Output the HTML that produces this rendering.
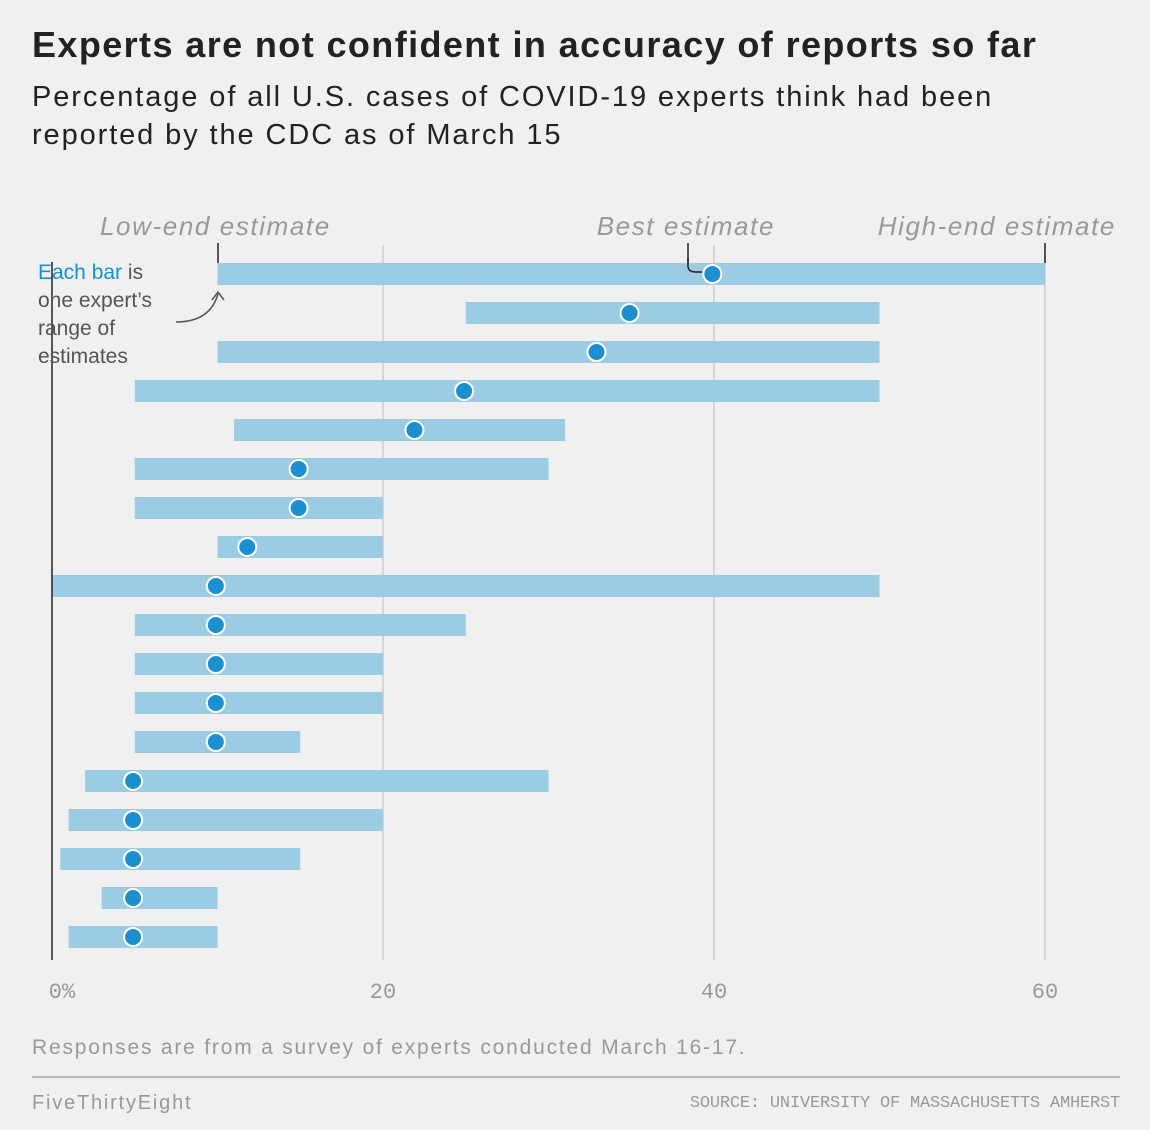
<!DOCTYPE html>
<html><head><meta charset="utf-8"><style>
body{margin:0;background:#f0f0f0;font-family:"Liberation Sans",sans-serif;}
#wrap{position:relative;width:1150px;height:1130px;overflow:hidden;background:#f0f0f0;}
.t{position:absolute;white-space:nowrap;}
</style></head><body>
<div id="wrap">
<div class="t" style="left:32px;top:24px;font-size:36px;font-weight:bold;color:#222;letter-spacing:1.4px;">Experts are not confident in accuracy of reports so far</div>
<div class="t" style="left:32px;top:78px;font-size:29px;color:#222;line-height:38px;letter-spacing:1.9px;">Percentage of all U.S. cases of COVID-19 experts think had been<br>reported by the CDC as of March 15</div>
<svg id="chart" width="1150" height="1130" style="position:absolute;left:0;top:0"></svg>
<div class="t" style="left:32px;top:1036px;font-size:21px;color:#999;letter-spacing:1.8px;">Responses are from a survey of experts conducted March 16-17.</div>
<div style="position:absolute;left:32px;top:1076px;width:1088px;height:2px;background:#bbb;"></div>
<div class="t" style="left:32px;top:1092px;font-size:20px;color:#999;letter-spacing:1.8px;">FiveThirtyEight</div>
<div class="t" style="right:30px;top:1094px;font-size:17px;color:#999;font-family:'Liberation Mono',monospace;letter-spacing:-0.2px;">SOURCE: UNIVERSITY OF MASSACHUSETTS AMHERST</div>
</div>
<script>
const lows=[10,25,10,5,11,5,5,10,0,5,5,5,5,2,1,0.5,3,1];
const highs=[60,50,50,50,31,30,20,20,50,25,20,20,15,30,20,15,10,10];
const bests=[39.9,34.9,32.9,24.9,21.9,14.9,14.9,11.8,9.9,9.9,9.9,9.9,9.9,4.9,4.9,4.9,4.9,4.9];
const ticks=[0,20,40,60];
const tickLabels=["0%","20","40","60"];
const NS="http://www.w3.org/2000/svg";
const svg=document.getElementById('chart');
const x=v=>52+v*16.55;
const y=i=>274+i*39;
function mk(t,a){const e=document.createElementNS(NS,t);for(const k in a)e.setAttribute(k,a[k]);svg.appendChild(e);return e;}
ticks.forEach((t,i)=>{
  if(t>0){const g=mk('line',{x1:x(t),x2:x(t),y1:245,y2:960,stroke:'#ccc','stroke-width':1.5});
  
  }
  const l=mk('text',{x:x(t)+(t===0?10:0),y:998,'text-anchor':'middle','font-size':22,fill:'#999','font-family':'Liberation Mono, monospace'});
  l.textContent=tickLabels[i];
  
  
});
lows.forEach((lo,i)=>{
  const b=mk('rect',{x:x(lo),y:y(i)-11,width:x(highs[i])-x(lo),height:22,fill:'#9ccbe4'});
  
  
});
const ax=mk('line',{x1:x(0),x2:x(0),y1:262,y2:960,stroke:'#222','stroke-width':1.5});


bests.forEach((b,i)=>{
  const c=mk('circle',{cx:x(b),cy:y(i),r:9,fill:'#1b8fd0',stroke:'#fff','stroke-width':2});
  
  
});
[[218,'Low-end estimate',100,'start'],[688,'Best estimate',775,'end'],[1045,'High-end estimate',1116,'end']].forEach(a=>{
  const t=mk('text',{x:a[2],y:235,'font-size':26,'font-style':'italic',fill:'#999','text-anchor':a[3],'letter-spacing':1.6});
  t.textContent=a[1];
  
  
  const l=mk('line',{x1:a[0],x2:a[0],y1:243,y2:263,stroke:'#222','stroke-width':1.5});
  
  
});
const p=mk('path',{d:'M688 258 L688 266 Q688 272 696 272 L702 272',fill:'none',stroke:'#222','stroke-width':1.5});


const ar=mk('path',{d:'M176 322 Q210 322 218 294 M212 300 L218 292 L224 300',fill:'none',stroke:'#555','stroke-width':1.5});


const lines=[['Each bar',' is'],['one expert’s',''],['range of',''],['estimates','']];
lines.forEach((ln,i)=>{
  const t=mk('text',{x:38,y:279+i*28,'font-size':21,fill:'#555'});
  
  
  const s1=document.createElementNS(NS,'tspan');s1.textContent=ln[0];
  if(i===0)s1.setAttribute('fill','#1b8fd0');
  t.appendChild(s1);
  const s2=document.createElementNS(NS,'tspan');s2.textContent=ln[1];t.appendChild(s2);
});
</script>
</body></html>
